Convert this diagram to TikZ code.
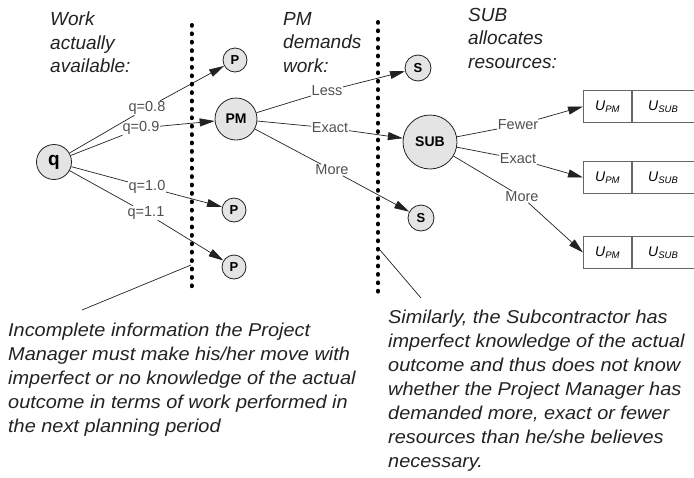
\documentclass[tikz,border=0pt]{standalone}
\usepackage{fontspec}
\setmainfont{Liberation Sans}
\newfontfamily\notefont{Liberation Sans}[FakeStretch=1.07]
\usetikzlibrary{arrows.meta}
\definecolor{nodefill}{HTML}{E4E4E4}
\definecolor{ink}{HTML}{222222}
\definecolor{lbl}{HTML}{505050}
\definecolor{boxline}{HTML}{666666}
\begin{document}
\begin{tikzpicture}[x=1pt,y=-1pt,
  gnode/.style={circle,draw=ink,fill=nodefill,line width=0.8pt,inner sep=0pt},
  small/.style={gnode,minimum size=24pt,font=\fontsize{13}{13}\selectfont\bfseries},
  elabel/.style={fill=white,inner sep=0.5pt,font=\fontsize{14.5}{14.5}\selectfont,text=lbl},
  arr/.style={draw=ink,line width=0.7pt,-{Triangle[length=15pt,width=8pt]}},
  plain/.style={draw=ink,line width=0.7pt},
  sepline/.style={draw=black,line width=4pt,line cap=round,dash pattern=on 0.8pt off 7.6pt},
  head/.style={anchor=north west,align=left,font=\fontsize{19}{23.5}\selectfont\itshape,inner sep=0pt,text=ink},
  note/.style={anchor=north west,align=left,font=\notefont\fontsize{18.6}{24}\selectfont\itshape,inner sep=0pt,text=ink},
  cell/.style={draw=boxline,line width=0.7pt,minimum height=32pt,inner sep=0pt,font=\fontsize{14}{14}\selectfont\itshape}
]
\useasboundingbox (0,0) rectangle (694,477);

% headers
\node[head] (h1) at (50,12) {Work\\actually\\available:};
\node[head] (h2) at (283,12) {PM\\demands\\work:};
\node[head] (h3) at (468,8) {SUB\\allocates\\resources:};

% game nodes
\node[gnode,minimum size=35pt,font=\fontsize{19}{19}\selectfont\bfseries] (q) at (54,162) {q};
\node[small] (p1) at (235,60) {P};
\node[gnode,minimum size=42pt,font=\fontsize{14}{14}\selectfont\bfseries] (pm) at (236,119) {PM};
\node[small] (p2) at (234,210) {P};
\node[small] (p3) at (234,267) {P};
\node[small,minimum size=26pt] (s1) at (418,68) {S};
\node[gnode,minimum size=54pt,font=\fontsize{14}{14}\selectfont\bfseries] (sub) at (430,142) {SUB};
\node[small,minimum size=26pt] (s2) at (421,218) {S};

% payoff boxes
\foreach \n/\y in {1/106.5,2/177.5,3/252.5}{
  \node[cell,minimum width=48pt,anchor=west] (u\n) at (583,\y) {U\raisebox{-0.3ex}{\fontsize{9.5}{9.5}\selectfont\itshape PM}};
  \node[cell,minimum width=62pt,anchor=west] (v\n) at (u\n.east) {U\raisebox{-0.3ex}{\fontsize{9.5}{9.5}\selectfont\itshape SUB}};
}

% edge labels
\node[elabel] (l1) at (147,108) {q=0.8};
\node[elabel] (l2) at (141,128) {q=0.9};
\node[elabel] (l3) at (147,187) {q=1.0};
\node[elabel] (l4) at (146,213) {q=1.1};
\node[elabel] (m1) at (327,91) {Less};
\node[elabel] (m2) at (330,128) {Exact};
\node[elabel] (m3) at (332,170) {More};
\node[elabel] (n1) at (518,125) {Fewer};
\node[elabel] (n2) at (518,159) {Exact};
\node[elabel] (n3) at (522,197) {More};

% edges
\draw[arr] (q) -- (l1) -- (p1);
\draw[arr] (q) -- (l2) -- (pm);
\draw[arr] (q) -- (l3) -- (p2);
\draw[arr] (q) -- (l4) -- (p3);
\draw[arr] (pm) -- (m1) -- (s1);
\draw[arr] (pm) -- (m2) -- (sub);
\draw[arr] (pm) -- (m3) -- (s2);
\draw[arr] (sub) -- (n1) -- (u1.west);
\draw[arr] (sub) -- (n2) -- (u2.west);
\draw[arr] (sub) -- (n3) -- (u3.west);

% information set separators
\coordinate (d1t) at (191.5,25);
\coordinate (d1b) at (191.5,292);
\coordinate (d2t) at (378,22);
\coordinate (d2b) at (378,292);
\draw[sepline] (d1t) -- (d1b);
\draw[sepline] (d2t) -- (d2b);

% annotations
\coordinate (a1s) at (191,265);
\coordinate (a1e) at (82,310);
\coordinate (a2s) at (380,250);
\coordinate (a2e) at (421,298);
\draw[plain] (a1s) -- (a1e);
\draw[plain] (a2s) -- (a2e);

\node[note] (t1) at (8,323) {Incomplete information the Project\\Manager must make his/her move with\\imperfect or no knowledge of the actual\\outcome in terms of work performed in\\the next planning period};
\node[note] (t2) at (388,310) {Similarly, the Subcontractor has\\imperfect knowledge of the actual\\outcome and thus does not know\\whether the Project Manager has\\demanded more, exact or fewer\\resources than he/she believes\\necessary.};
\end{tikzpicture}
\end{document}
